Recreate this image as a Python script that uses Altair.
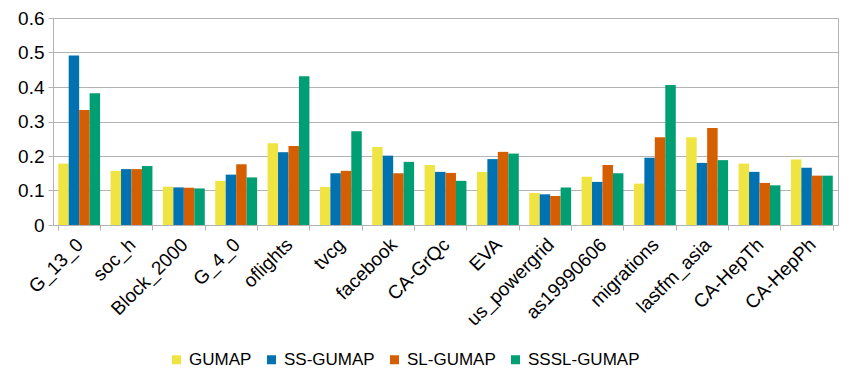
import altair as alt
import pandas as pd

datasets = ["G_13_0", "soc_h", "Block_2000", "G_4_0", "oflights", "tvcg", "facebook",
            "CA-GrQc", "EVA", "us_powergrid", "as19990606", "migrations", "lastfm_asia",
            "CA-HepTh", "CA-HepPh"]
methods = ["GUMAP", "SS-GUMAP", "SL-GUMAP", "SSSL-GUMAP"]
gumap = [0.178, 0.157, 0.111, 0.128, 0.237, 0.110, 0.226, 0.174, 0.154, 0.093, 0.140, 0.120, 0.254, 0.178, 0.190]
ss_gumap = [0.491, 0.162, 0.109, 0.146, 0.211, 0.150, 0.201, 0.154, 0.191, 0.089, 0.125, 0.195, 0.180, 0.154, 0.166]
sl_gumap = [0.333, 0.162, 0.108, 0.176, 0.229, 0.157, 0.150, 0.151, 0.212, 0.084, 0.174, 0.254, 0.281, 0.122, 0.143]
sssl_gumap = [0.382, 0.171, 0.106, 0.138, 0.431, 0.272, 0.183, 0.128, 0.207, 0.109, 0.150, 0.406, 0.188, 0.115, 0.143]
colors = ["#f0e442", "#0072b2", "#d55e00", "#009e73"]

rows = []
for m, vals in zip(methods, [gumap, ss_gumap, sl_gumap, sssl_gumap]):
    for d, v in zip(datasets, vals):
        rows.append({"dataset": d, "method": m, "value": v})
df = pd.DataFrame(rows)

font = "Liberation Sans"
chart = alt.Chart(df).mark_bar().encode(
    x=alt.X("dataset:N", sort=datasets, title=None,
            scale=alt.Scale(paddingInner=0.2, paddingOuter=0.1),
            axis=alt.Axis(labelAngle=-45, labelFontSize=19, labelFont=font, labelColor="#000",
                          tickBand="extent", tickSize=5, tickColor="#b3b3b3",
                          domainColor="#b3b3b3", labelPadding=5, labelOffset=-6, grid=False)),
    xOffset=alt.XOffset("method:N", sort=methods),
    y=alt.Y("value:Q", title=None,
            scale=alt.Scale(domain=[0, 0.6]),
            axis=alt.Axis(values=[0, 0.1, 0.2, 0.3, 0.4, 0.5, 0.6], format="~g",
                          labelFontSize=19, labelFont=font, labelColor="#000",
                          tickSize=5, tickColor="#b3b3b3", domainColor="#b3b3b3",
                          gridColor="#b3b3b3", labelPadding=4)),
    color=alt.Color("method:N", sort=methods,
                    scale=alt.Scale(domain=methods, range=colors),
                    legend=alt.Legend(title=None, orient="none", direction="horizontal",
                                      legendX=115, legendY=333, symbolType="square",
                                      symbolSize=81, symbolStrokeWidth=0,
                                      labelFontSize=17, labelFont=font, labelColor="#000",
                                      labelLimit=0, columnPadding=11, labelOffset=4)),
).properties(
    width=785, height=207,
    autosize=alt.AutoSizeParams(type="none"),
    padding={"left": 45, "top": 10, "right": 9, "bottom": 143},
).configure_view(stroke="#b3b3b3")

chart.save("out.html", embed_options={"renderer": "svg", "actions": False})
